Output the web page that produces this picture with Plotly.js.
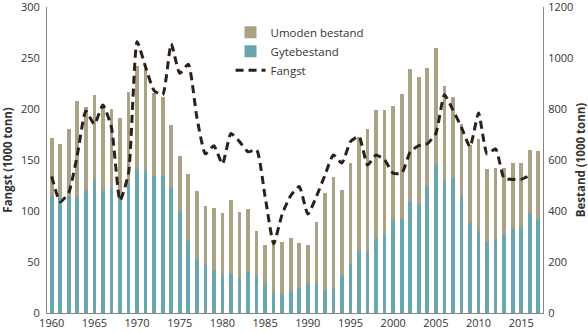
<!DOCTYPE html>
<html>
<head>
<meta charset="utf-8">
<script src="https://cdn.plot.ly/plotly-3.0.1.min.js"></script>
<style>html,body{margin:0;padding:0;background:#fff;}#chart{width:588px;height:333px;}</style>
</head>
<body>
<div id="chart"></div>
<script>
const years = [1960,1961,1962,1963,1964,1965,1966,1967,1968,1969,1970,1971,1972,1973,1974,1975,1976,1977,1978,1979,1980,1981,1982,1983,1984,1985,1986,1987,1988,1989,1990,1991,1992,1993,1994,1995,1996,1997,1998,1999,2000,2001,2002,2003,2004,2005,2006,2007,2008,2009,2010,2011,2012,2013,2014,2015,2016,2017];
// Total stock (1000 tonn)
const totalBestand = [688,661,721,831,807,853,808,799,763,867,969,956,861,848,736,616,545,478,418,410,394,442,397,406,321,268,285,280,294,275,268,355,469,532,482,588,691,722,795,795,811,857,955,925,959,1038,891,849,740,658,683,566,570,570,587,587,641,634];
// Spawning stock (1000 tonn)
const gytebestand = [459,452,459,454,477,521,477,490,455,511,564,553,537,537,490,400,281,210,187,168,150,154,137,160,146,112,82,70,86,100,115,112,92,97,146,194,244,240,290,304,364,367,437,422,500,579,519,531,461,354,320,279,290,304,329,339,391,364];
// Catch (1000 tonn), 1960-2016
const fangstYears = years.slice(0, 57);
const fangst = [134,109,118,155,198,185,204,182,110,137,266,241,218,214,264,235,244,192,156,164,146,176,168,158,160,114,68,97,115,124,97,114,135,155,147,168,173,145,155,150,137,137,158,164,166,176,214,199,182,163,196,156,161,132,131,131,135];
const umoden = totalBestand.map((t, i) => t - gytebestand[i]);

const font = "'Open Sans', 'Noto Sans', sans-serif";
const traces = [
  {type:'bar', name:'Gytebestand', x:years, y:gytebestand, yaxis:'y',
   marker:{color:'#6aa6ae'}, width:0.43, legendrank:2},
  {type:'bar', name:'Umoden bestand', x:years, y:umoden, yaxis:'y',
   marker:{color:'#aaa284'}, width:0.43, legendrank:1},
  {type:'scatter', mode:'lines', name:'Fangst', x:fangstYears, y:fangst, yaxis:'y2',
   line:{color:'#2b2119', width:3, dash:'8px,5px', shape:'spline', smoothing:0.5}, legendrank:3}
];
const layout = {
  width:588, height:333,
  margin:{l:47, r:45, t:7, b:20},
  paper_bgcolor:'#fff', plot_bgcolor:'#fff',
  font:{family:font, size:11, color:'#333'},
  barmode:'stack', bargap:0.5,
  showlegend:true,
  legend:{x:0.37, y:0.965, xanchor:'left', yanchor:'top', bgcolor:'rgba(0,0,0,0)', traceorder:'normal',
          font:{family:font, size:11.5, color:'#333'}, itemwidth:30, tracegroupgap:0},
  xaxis:{range:[1959.45, 2017.55], tickmode:'array', tickvals:[1960,1965,1970,1975,1980,1985,1990,1995,2000,2005,2010,2015],
         showgrid:false, zeroline:false, showline:true, linecolor:'#8a8480', linewidth:1,
         ticks:'', ticklen:0, tickfont:{size:11, color:'#333'}, ticklabeloverflow:'allow'},
  yaxis:{side:'right', range:[0,1200], tickvals:[0,200,400,600,800,1000,1200],
         showgrid:false, zeroline:false, showline:true, linecolor:'#8a8480', linewidth:1,
         ticks:'', tickfont:{size:11, color:'#333'}, ticklabeloverflow:'allow', ticklabelstandoff:2,
         title:{text:'<b>Bestand (1000 tonn)</b>', font:{size:11.5, color:'#333'}, standoff:8}},
  yaxis2:{side:'left', overlaying:'y', range:[0,300], tickvals:[0,50,100,150,200,250,300],
          showgrid:false, zeroline:false, showline:true, linecolor:'#8a8480', linewidth:1,
          ticks:'', tickfont:{size:11, color:'#333'}, ticklabeloverflow:'allow', ticklabelstandoff:4,
          title:{text:'<b>Fangst (1000 tonn)</b>', font:{size:11.5, color:'#333'}, standoff:6}}
};
Plotly.newPlot('chart', traces, layout, {displayModeBar:false, staticPlot:true});
</script>
</body>
</html>
